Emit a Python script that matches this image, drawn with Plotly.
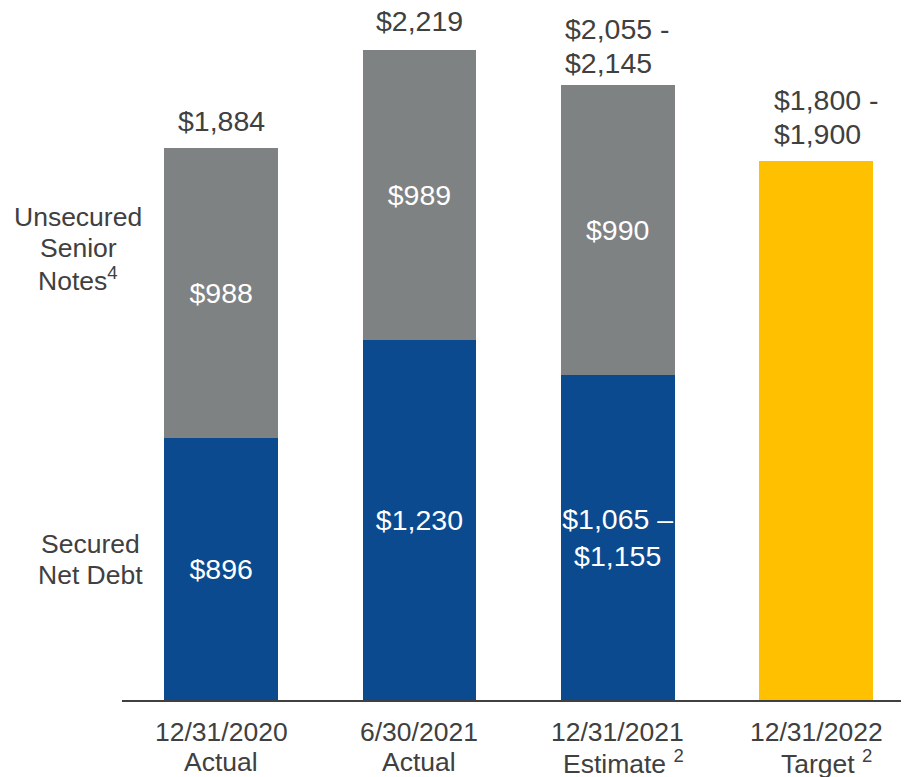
import plotly.graph_objects as go

# ---- data ----
categories = ["12/31/2020", "6/30/2021", "12/31/2021", "12/31/2022"]
subtitles = ["Actual", "Actual", "Estimate <sup>2</sup>", "Target <sup>2</sup>"]
secured = [896, 1230, 1110, None]
secured_labels = ["$896", "$1,230", "$1,065 –<br>$1,155", None]
unsecured = [988, 989, 990, None]
unsecured_labels = ["$988", "$989", "$990", None]
target = [None, None, None, 1840]
total_labels = [["$1,884"], ["$2,219"], ["$2,055 -", "$2,145"], ["$1,800 -", "$1,900"]]

BLUE = "#0B4A8E"
GRAY = "#7F8283"
YELLOW = "#FFC000"
TEXT = "#404040"
FONT = "Liberation Sans, Arial, sans-serif"
FS_VAL = 28.5
FS_LBL = 26.5

xs = list(range(len(categories)))
totals = []
for i in xs:
    if target[i] is not None:
        totals.append(target[i])
    else:
        totals.append(secured[i] + unsecured[i])

fig = go.Figure()
fig.add_trace(go.Bar(x=xs, y=secured, marker_color=BLUE, width=0.574,
                     text=secured_labels, textposition="inside",
                     insidetextanchor="middle", textangle=0,
                     constraintext="none",
                     textfont=dict(color="white", size=FS_VAL, family=FONT),
                     hoverinfo="skip"))
fig.add_trace(go.Bar(x=xs, y=unsecured, marker_color=GRAY, width=0.574,
                     text=unsecured_labels, textposition="inside",
                     insidetextanchor="middle", textangle=0,
                     constraintext="none",
                     textfont=dict(color="white", size=FS_VAL, family=FONT),
                     hoverinfo="skip"))
fig.add_trace(go.Bar(x=xs, y=target, marker_color=YELLOW, width=0.574,
                     hoverinfo="skip"))

annotations = []
# total labels above bars (one annotation per line)
gap_above = [9.5, 11, 4, 9]      # distance tweaks in px
left_off = [None, None, -55, -44]
LINE = 34.5
for i in xs:
    lines = total_labels[i]
    n = len(lines)
    for k, line in enumerate(lines):
        ann = dict(x=xs[i], y=totals[i], xref="x", yref="y", text=line,
                   showarrow=False, yanchor="bottom",
                   yshift=gap_above[i] + (n - 1 - k) * LINE,
                   font=dict(size=FS_VAL, color=TEXT, family=FONT))
        if left_off[i] is None:
            ann.update(xanchor="center")
        else:
            ann.update(xanchor="left", xshift=left_off[i])
        annotations.append(ann)
# category labels (two lines)
sub_shift = [0, 0, 6, 10]
for i in xs:
    annotations.append(dict(
        x=xs[i], y=0, xref="x", yref="paper", text=categories[i],
        showarrow=False, yanchor="middle", yshift=-32,
        font=dict(size=FS_LBL, color=TEXT, family=FONT)))
    annotations.append(dict(
        x=xs[i], y=0, xref="x", yref="paper", text=subtitles[i],
        showarrow=False, yanchor="middle", yshift=-62, xshift=sub_shift[i],
        font=dict(size=FS_LBL, color=TEXT, family=FONT)))
# side labels
side = [("Unsecured", -44, 483), ("Senior", -44, 452), ("Notes<sup>4</sup>", -44, 421),
        ("Secured", -32, 156), ("Net Debt", -32, 125)]
for txt, xs_, ys_ in side:
    annotations.append(dict(
        x=0, y=0, xref="paper", yref="paper", text=txt, showarrow=False,
        xanchor="center", yanchor="middle", xshift=xs_, yshift=ys_,
        font=dict(size=FS_LBL, color=TEXT, family=FONT)))

fig.update_layout(
    template=None,
    barmode="stack", width=901, height=769,
    margin=dict(l=114, r=0, t=0, b=77, pad=0),
    paper_bgcolor="white", plot_bgcolor="white",
    showlegend=False, hovermode=False,
    annotations=annotations,
    font=dict(family=FONT, color=TEXT),
)
fig.update_xaxes(range=[-0.5, 3.469], showline=True, linecolor=TEXT, linewidth=2,
                 showticklabels=False, showgrid=False, zeroline=False, ticks="")
fig.update_yaxes(range=[0, 2363], visible=False, showgrid=False, zeroline=False)

fig.write_html("out.html")
